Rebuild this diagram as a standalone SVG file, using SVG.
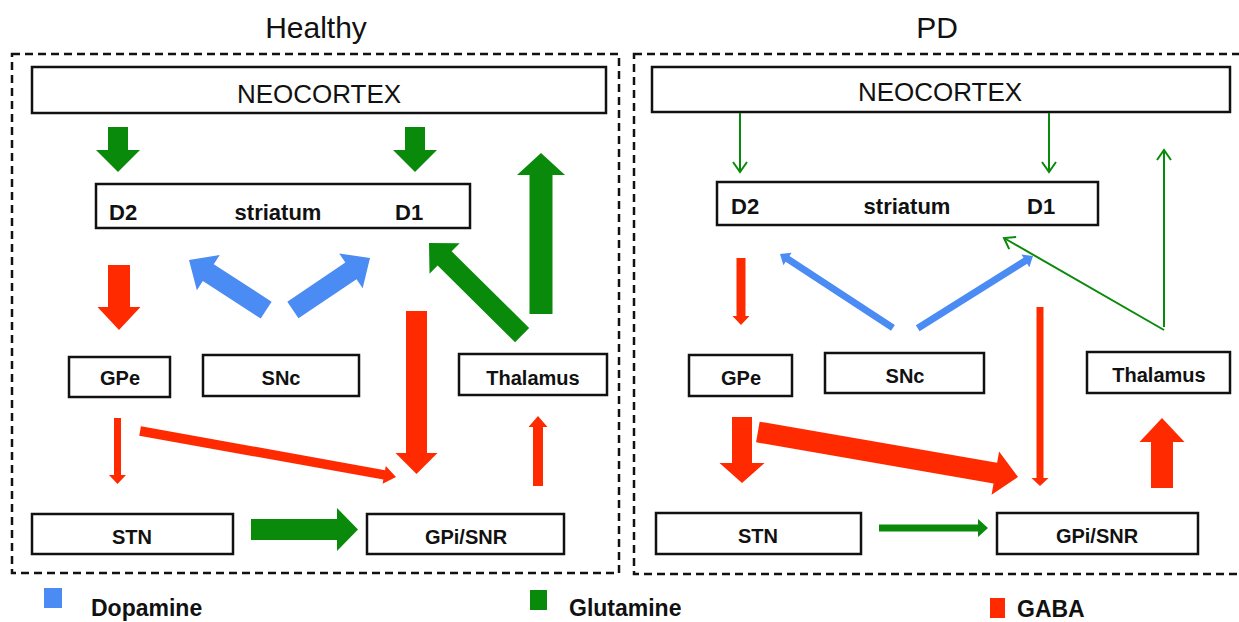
<svg xmlns="http://www.w3.org/2000/svg" width="1239" height="622" viewBox="0 0 1239 622">
<defs>
<style>
.panel{fill:none;stroke:#111;stroke-width:2.5;stroke-dasharray:8 5}
.box{fill:#fff;stroke:#111;stroke-width:2.5}
.t{font-family:"Liberation Sans",Arial,sans-serif;font-weight:bold;font-size:20px;fill:#111;text-anchor:middle}
.ts{font-family:"Liberation Sans",Arial,sans-serif;font-weight:bold;font-size:22px;fill:#111}
.neo{font-family:"Liberation Sans",Arial,sans-serif;font-size:26px;fill:#111;text-anchor:middle}
.title{font-family:"Liberation Sans",Arial,sans-serif;font-size:30px;fill:#111;text-anchor:middle}
.leg{font-family:"Liberation Sans",Arial,sans-serif;font-weight:bold;font-size:23px;fill:#111}
.g{fill:#0a8a0a}
.r{fill:#ff2a00}
.b{fill:#4b8bf4}
.gl{stroke:#0a8a0a;stroke-width:2;fill:none}
</style>
<marker id="chev" markerWidth="16" markerHeight="18" refX="13" refY="9" orient="auto" markerUnits="userSpaceOnUse">
<path d="M3,2 L13,9 L3,16" fill="none" stroke="#0a8a0a" stroke-width="2"/>
</marker>
</defs>
<rect width="1239" height="622" fill="#fff"/>

<text class="title" x="316" y="38">Healthy</text>
<text class="title" x="937" y="38">PD</text>

<rect class="panel" x="12" y="54" width="607" height="519"/>
<rect class="panel" x="634" y="54" width="620" height="520"/>

<!-- Healthy nodes -->
<g id="h-neocortex"><rect class="box" x="32" y="67" width="574" height="46"/><text class="neo" x="319" y="103">NEOCORTEX</text></g>
<g id="h-striatum"><rect class="box" x="96" y="184" width="374" height="44"/><text class="ts" x="109" y="220">D2</text><text class="ts" x="278" y="220" text-anchor="middle">striatum</text><text class="ts" x="395" y="220">D1</text></g>
<g id="h-gpe"><rect class="box" x="69" y="357" width="101" height="40"/><text class="t" x="120" y="385">GPe</text></g>
<g id="h-snc"><rect class="box" x="203" y="355" width="156" height="41"/><text class="t" x="281" y="385">SNc</text></g>
<g id="h-thalamus"><rect class="box" x="459" y="354" width="148" height="41"/><text class="t" x="533" y="385">Thalamus</text></g>
<g id="h-stn"><rect class="box" x="32" y="514" width="201" height="40"/><text class="t" x="132" y="544">STN</text></g>
<g id="h-gpi"><rect class="box" x="367" y="514" width="197" height="40"/><text class="t" x="466" y="544">GPi/SNR</text></g>

<!-- PD nodes -->
<g id="p-neocortex"><rect class="box" x="652" y="67" width="578" height="45"/><text class="neo" x="940" y="101">NEOCORTEX</text></g>
<g id="p-striatum"><rect class="box" x="717" y="182" width="381" height="43"/><text class="ts" x="731" y="214">D2</text><text class="ts" x="907" y="214" text-anchor="middle">striatum</text><text class="ts" x="1027" y="214">D1</text></g>
<g id="p-gpe"><rect class="box" x="689" y="355" width="103" height="41"/><text class="t" x="741" y="385">GPe</text></g>
<g id="p-snc"><rect class="box" x="825" y="353" width="159" height="40"/><text class="t" x="905" y="383">SNc</text></g>
<g id="p-thalamus"><rect class="box" x="1087" y="352" width="143" height="41"/><text class="t" x="1159" y="382">Thalamus</text></g>
<g id="p-stn"><rect class="box" x="656" y="513" width="205" height="41"/><text class="t" x="758" y="543">STN</text></g>
<g id="p-gpi"><rect class="box" x="997" y="513" width="201" height="41"/><text class="t" x="1097" y="543">GPi/SNR</text></g>

<g id="connectors">
<!-- Healthy -->
<polygon class="g" transform="translate(118,172) rotate(90)" points="0,0 -22,-22 -22,-10 -45,-10 -45,10 -22,10 -22,22"/>
<polygon class="g" transform="translate(415,172) rotate(90)" points="0,0 -22,-22 -22,-10 -45,-10 -45,10 -22,10 -22,22"/>
<polygon class="g" transform="translate(541,153) rotate(-90)" points="0,0 -22,-24 -22,-11.5 -161,-11.5 -161,11.5 -22,11.5 -22,24"/>
<polygon class="g" transform="translate(429,243) rotate(-135.3)" points="0,0 -22,-21.5 -22,-10 -131,-10 -131,10 -22,10 -22,21.5"/>
<polygon class="b" transform="translate(189,260) rotate(-147)" points="0,0 -23,-21 -23,-10 -92,-10 -92,10 -23,10 -23,21"/>
<polygon class="b" transform="translate(370,258) rotate(-34)" points="0,0 -23,-21 -23,-10 -93,-10 -93,10 -23,10 -23,21"/>
<polygon class="r" transform="translate(119,330) rotate(90)" points="0,0 -23,-21.5 -23,-11 -65,-11 -65,11 -23,11 -23,21.5"/>
<polygon class="r" transform="translate(416.5,474) rotate(90)" points="0,0 -21,-21 -21,-10.5 -163,-10.5 -163,10.5 -21,10.5 -21,21"/>
<polygon class="r" transform="translate(117.5,484) rotate(90)" points="0,0 -9,-8.5 -9,-3.5 -66,-3.5 -66,3.5 -9,3.5 -9,8.5"/>
<polygon class="r" transform="translate(396,477) rotate(10.19)" points="0,0 -12,-9 -12,-4.8 -260,-4.8 -260,4.8 -12,4.8 -12,9"/>
<polygon class="r" transform="translate(538,416) rotate(-90)" points="0,0 -11,-9.5 -11,-5 -70,-5 -70,5 -11,5 -11,9.5"/>
<polygon class="g" transform="translate(358,529.5)" points="0,0 -21,-21.5 -21,-10.5 -107,-10.5 -107,10.5 -21,10.5 -21,21.5"/>
<!-- PD -->
<line class="gl" x1="740" y1="113" x2="740" y2="172" marker-end="url(#chev)"/>
<line class="gl" x1="1049" y1="113" x2="1049" y2="172" marker-end="url(#chev)"/>
<line class="gl" x1="1164" y1="327" x2="1164" y2="150" marker-end="url(#chev)"/>
<line class="gl" x1="1164" y1="330" x2="1004" y2="238" marker-end="url(#chev)"/>
<polygon class="b" transform="translate(780,254) rotate(-146.8)" points="0,0 -9,-7.5 -9,-3.5 -135,-3.5 -135,3.5 -9,3.5 -9,7.5"/>
<polygon class="b" transform="translate(1033,256) rotate(-32.05)" points="0,0 -9,-7.5 -9,-3.5 -136,-3.5 -136,3.5 -9,3.5 -9,7.5"/>
<polygon class="r" transform="translate(741,325) rotate(90)" points="0,0 -9,-8.5 -9,-4.5 -67,-4.5 -67,4.5 -9,4.5 -9,8.5"/>
<polygon class="r" transform="translate(1040,486) rotate(90)" points="0,0 -8,-8.5 -8,-3.5 -179,-3.5 -179,3.5 -8,3.5 -8,8.5"/>
<polygon class="r" transform="translate(742,483) rotate(90)" points="0,0 -20,-22.5 -20,-10 -66,-10 -66,10 -20,10 -20,22.5"/>
<polygon class="r" transform="translate(1018,477) rotate(9.82)" points="0,0 -23,-22 -23,-10.5 -264,-10.5 -264,10.5 -23,10.5 -23,22"/>
<polygon class="r" transform="translate(1162,418) rotate(-90)" points="0,0 -24,-22.5 -24,-11 -70,-11 -70,11 -24,11 -24,22.5"/>
<polygon class="g" transform="translate(988,528)" points="0,0 -10,-9 -10,-3.5 -109,-3.5 -109,3.5 -10,3.5 -10,9"/>
</g>

<g id="legend">
<rect class="b" x="44" y="588" width="18" height="20"/>
<text class="leg" x="91" y="616">Dopamine</text>
<rect class="g" x="530" y="590" width="17" height="20"/>
<text class="leg" x="569" y="616">Glutamine</text>
<rect class="r" x="990" y="598" width="15" height="20"/>
<text class="leg" x="1017" y="617">GABA</text>
</g>
</svg>
